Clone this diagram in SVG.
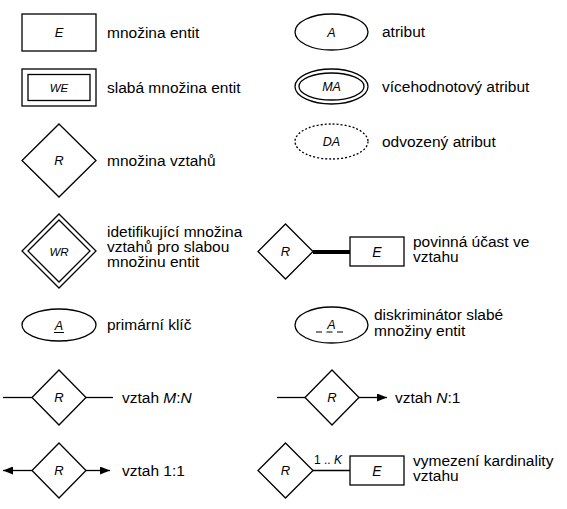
<svg xmlns="http://www.w3.org/2000/svg" width="567" height="509" viewBox="0 0 567 509">
<defs>
<style>
.s{fill:#fff;stroke:#000;stroke-width:1.3}
.n{fill:none;stroke:#000;stroke-width:1.3}
.t{font-family:"Liberation Sans",Arial,sans-serif;font-size:15.5px;fill:#000}
.l{font-family:"Liberation Sans",Arial,sans-serif;font-style:italic;font-size:13px;fill:#000;text-anchor:middle}
.ls{font-family:"Liberation Sans",Arial,sans-serif;font-style:italic;font-size:11.5px;fill:#000;text-anchor:middle}
</style>
<marker id="arr" viewBox="0 0 10 8" refX="10" refY="4" markerWidth="10" markerHeight="8" markerUnits="userSpaceOnUse" orient="auto-start-reverse">
<path d="M0,0 L10,4 L0,8 Z" fill="#000"/>
</marker>
</defs>
<rect width="567" height="509" fill="#fff"/>

<g id="connectors">
<line class="n" x1="313" y1="252" x2="350" y2="252" style="stroke-width:4"/>
<line class="n" x1="3" y1="397.5" x2="32" y2="397.5"/>
<line class="n" x1="86" y1="397.5" x2="113" y2="397.5"/>
<line class="n" x1="3" y1="470.5" x2="32" y2="470.5" marker-start="url(#arr)"/>
<line class="n" x1="86" y1="470.5" x2="110" y2="470.5" marker-end="url(#arr)"/>
<line class="n" x1="277" y1="397.5" x2="305" y2="397.5"/>
<line class="n" x1="359" y1="397.5" x2="387" y2="397.5" marker-end="url(#arr)"/>
<line class="n" x1="313" y1="470.5" x2="350" y2="470.5"/>
<text class="t" x="314" y="464" style="font-size:12px">1 .. <tspan font-style="italic">K</tspan></text>
</g>

<g id="entity">
<rect class="s" x="22" y="14" width="74" height="37"/>
<text class="l" x="59" y="37">E</text>
<text class="t" x="107" y="38">množina entit</text>
</g>

<g id="weak-entity">
<rect class="s" x="22" y="69" width="74" height="37"/>
<rect class="n" x="28" y="74.5" width="62" height="26"/>
<text class="ls" x="59" y="91.5">WE</text>
<text class="t" x="107" y="93">slabá množina entit</text>
</g>

<g id="relationship">
<polygon class="s" points="59,124 96,160.5 59,197 22,160.5"/>
<text class="l" x="59" y="165">R</text>
<text class="t" x="107" y="166">množina vztahů</text>
</g>

<g id="identifying-relationship">
<polygon class="s" points="59,214 96,251 59,288 22,251"/>
<polygon class="n" points="59,220 90,251 59,282 28,251"/>
<text class="ls" x="59" y="255.5">WR</text>
<text class="t" x="107" y="237">idetifikující množina</text>
<text class="t" x="107" y="252">vztahů pro slabou</text>
<text class="t" x="107" y="267">množinu entit</text>
</g>

<g id="primary-key">
<ellipse class="s" cx="59" cy="325" rx="37" ry="16"/>
<text class="l" x="59" y="329.5" style="font-size:12.5px">A</text>
<line class="n" x1="54" y1="332.5" x2="64" y2="332.5" style="stroke-width:1"/>
<text class="t" x="107" y="330">primární klíč</text>
</g>

<g id="mn">
<polygon class="s" points="59,370 86,397.5 59,425 32,397.5"/>
<text class="l" x="59" y="402">R</text>
<text class="t" x="122" y="403">vztah <tspan font-style="italic">M</tspan>:<tspan font-style="italic">N</tspan></text>
</g>

<g id="one-one">
<polygon class="s" points="59,443 86,470.5 59,498 32,470.5"/>
<text class="l" x="59" y="475">R</text>
<text class="t" x="122" y="476">vztah 1:1</text>
</g>

<g id="attribute">
<ellipse class="s" cx="331.5" cy="32" rx="36.5" ry="18"/>
<text class="l" x="331.5" y="36.5" style="font-size:12.5px">A</text>
<text class="t" x="382" y="37">atribut</text>
</g>

<g id="multivalued">
<ellipse class="s" cx="331.5" cy="86.5" rx="36.5" ry="17.5"/>
<ellipse class="n" cx="331.5" cy="86.5" rx="32.5" ry="13.5"/>
<text class="l" x="331.5" y="91" style="font-size:12.5px">MA</text>
<text class="t" x="382" y="92">vícehodnotový atribut</text>
</g>

<g id="derived">
<ellipse class="n" cx="331.5" cy="141.5" rx="36.5" ry="17.5" stroke-dasharray="2,2"/>
<text class="l" x="331.5" y="146" style="font-size:12.5px">DA</text>
<text class="t" x="382" y="147">odvozený atribut</text>
</g>

<g id="mandatory">
<polygon class="s" points="285.5,224 313,251.5 285.5,279 258,251.5"/>
<text class="l" x="285.5" y="256">R</text>
<rect class="s" x="350" y="237" width="54" height="29"/>
<text class="l" x="377" y="257" style="font-size:14px">E</text>
<text class="t" x="413" y="247">povinná účast ve</text>
<text class="t" x="413" y="262">vztahu</text>
</g>

<g id="discriminator">
<ellipse class="s" cx="331.5" cy="325" rx="36.5" ry="18"/>
<text class="l" x="331.5" y="328.5" style="font-size:12.5px">A</text>
<line class="n" x1="316" y1="332" x2="343" y2="332" stroke-dasharray="6,4.5" style="stroke-width:1"/>
<text class="t" x="374" y="320">diskriminátor slabé</text>
<text class="t" x="374" y="336">množiny entit</text>
</g>

<g id="n-one">
<polygon class="s" points="332,370 359,397.5 332,425 305,397.5"/>
<text class="l" x="332" y="402">R</text>
<text class="t" x="395" y="403">vztah <tspan font-style="italic">N</tspan>:1</text>
</g>

<g id="cardinality">
<polygon class="s" points="285.5,443 313,470.5 285.5,498 258,470.5"/>
<text class="l" x="285.5" y="475">R</text>
<rect class="s" x="350" y="456" width="54" height="29"/>
<text class="l" x="377" y="476" style="font-size:14px">E</text>
<text class="t" x="413" y="466">vymezení kardinality</text>
<text class="t" x="413" y="481">vztahu</text>
</g>
</svg>
